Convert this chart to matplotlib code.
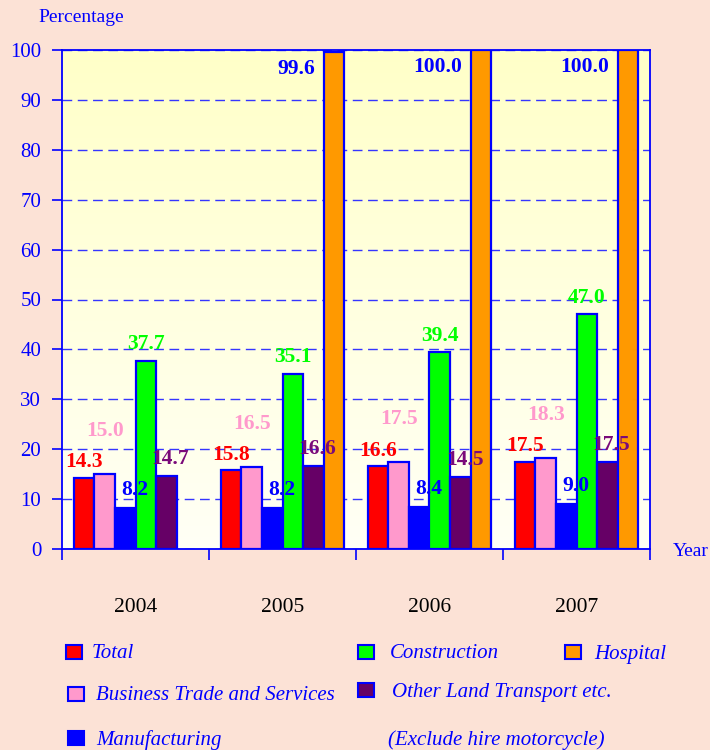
import matplotlib
matplotlib.use("Agg")
import matplotlib.pyplot as plt
import numpy as np
from matplotlib.patches import Rectangle
from matplotlib.colors import LinearSegmentedColormap

years = ["2004", "2005", "2006", "2007"]
series = ["Total", "Business Trade and Services", "Manufacturing",
          "Construction", "Other Land Transport etc.", "Hospital"]
total = [14.3, 15.8, 16.6, 17.5]
business = [15.0, 16.5, 17.5, 18.3]
manufacturing = [8.2, 8.2, 8.4, 9.0]
construction = [37.7, 35.1, 39.4, 47.0]
other_transport = [14.7, 16.6, 14.5, 17.5]
hospital = [None, 99.6, 100.0, 100.0]
yticks = [0, 10, 20, 30, 40, 50, 60, 70, 80, 90, 100]

values = [total, business, manufacturing, construction, other_transport, hospital]
colors = ["#FF0000", "#FF99CC", "#0000FF", "#00FF00", "#660066", "#FF9900"]
label_colors = ["#FF0000", "#FF99CC", "#0000FF", "#00FF00", "#7A0A7A", "#0000FF"]
# label offsets (points) relative to bar top center
label_off = [(0, 11), (0, 31), (7, 13), (0, 12), (3, 12), None]

BG = "#FCE2D6"
BLUE = "#0000FF"
serif = ["Liberation Serif", "DejaVu Serif"]
plt.rcParams['font.family'] = serif

fig = plt.figure(figsize=(7.1, 7.5), dpi=100, facecolor=BG)
ax = fig.add_axes([62/710, 1-549/750, 588/710, 499/750])
ax.set_facecolor("white")

# gradient background (yellow at top -> near white at bottom)
grad = np.linspace(0, 1, 256).reshape(-1, 1)
cmap = LinearSegmentedColormap.from_list("g", ["#FFFFC8", "#FFFFF6"])
ax.imshow(grad, extent=[-0.5, 3.5, 0, 100], origin="upper", aspect="auto",
          cmap=cmap, zorder=0)

w = 0.14
x = np.arange(len(years))
for k, (vals, c) in enumerate(zip(values, colors)):
    for i, v in enumerate(vals):
        if v is None:
            continue
        xc = x[i] - 2.5 * w + k * w
        ax.bar(xc, v, width=w, color=c, edgecolor=BLUE, linewidth=1.6, zorder=3)
        if label_off[k] is not None:
            ax.annotate(f"{v:.1f}", (xc, v), xytext=label_off[k], textcoords="offset points",
                        ha="center", va="center", fontsize=15.5, fontweight="bold",
                        color=label_colors[k], zorder=5)
        else:
            ax.annotate(f"{v:.1f}", (xc - w / 2, v), xytext=(-6, -12), textcoords="offset points",
                        ha="right", va="center", fontsize=15.5, fontweight="bold",
                        color=label_colors[k], zorder=5)

ax.set_xlim(-0.5, 3.5)
ax.set_ylim(0, 100)
ax.set_yticks(yticks)
ax.set_yticklabels([str(t) for t in yticks], fontsize=15, color=BLUE)
ax.tick_params(axis="y", direction="out", length=7, width=1.2, color=BLUE, pad=8)
ax.yaxis.grid(True, linestyle=(0, (7, 4)), color="#3535FF", linewidth=1.0, zorder=1)
ax.set_axisbelow(True)

ax.set_xticks([-0.5, 0.5, 1.5, 2.5, 3.5])
ax.set_xticklabels([])
ax.set_xticks(x, minor=True)
ax.set_xticklabels(years, minor=True, fontsize=15.5, color="#000000")
ax.tick_params(axis="x", which="major", direction="out", length=8, width=1.2, color=BLUE)
ax.tick_params(axis="x", which="minor", length=0, pad=35)

for s in ax.spines.values():
    s.set_color(BLUE)
    s.set_linewidth(1.3)

fig.text(38/710, 1-17/750, "Percentage", fontsize=14, color=BLUE, ha="left", va="center")
fig.text(673/710, 1-551/750, "Year", fontsize=14, color=BLUE, ha="left", va="center")

# custom legend
legend_items = [
    (0, 66, 652, 92), (3, 358, 652, 390), (5, 565, 652, 594),
    (1, 68, 694, 96), (4, 358, 690, 392), (2, 68, 738, 96),
]
for k, mx, my, tx in legend_items:
    r = Rectangle((mx/710, 1-(my+7)/750), 16/710, 14/750, transform=fig.transFigure,
                  facecolor=colors[k], edgecolor=BLUE, linewidth=1.5)
    fig.patches.append(r)
    fig.text(tx/710, 1-(my+2)/750, series[k], fontsize=15, style="italic", color=BLUE,
             ha="left", va="center")
fig.text(388/710, 1-740/750, "(Exclude hire motorcycle)", fontsize=15, style="italic",
         color=BLUE, ha="left", va="center")

fig.savefig("out.png", dpi=100, facecolor=BG)
